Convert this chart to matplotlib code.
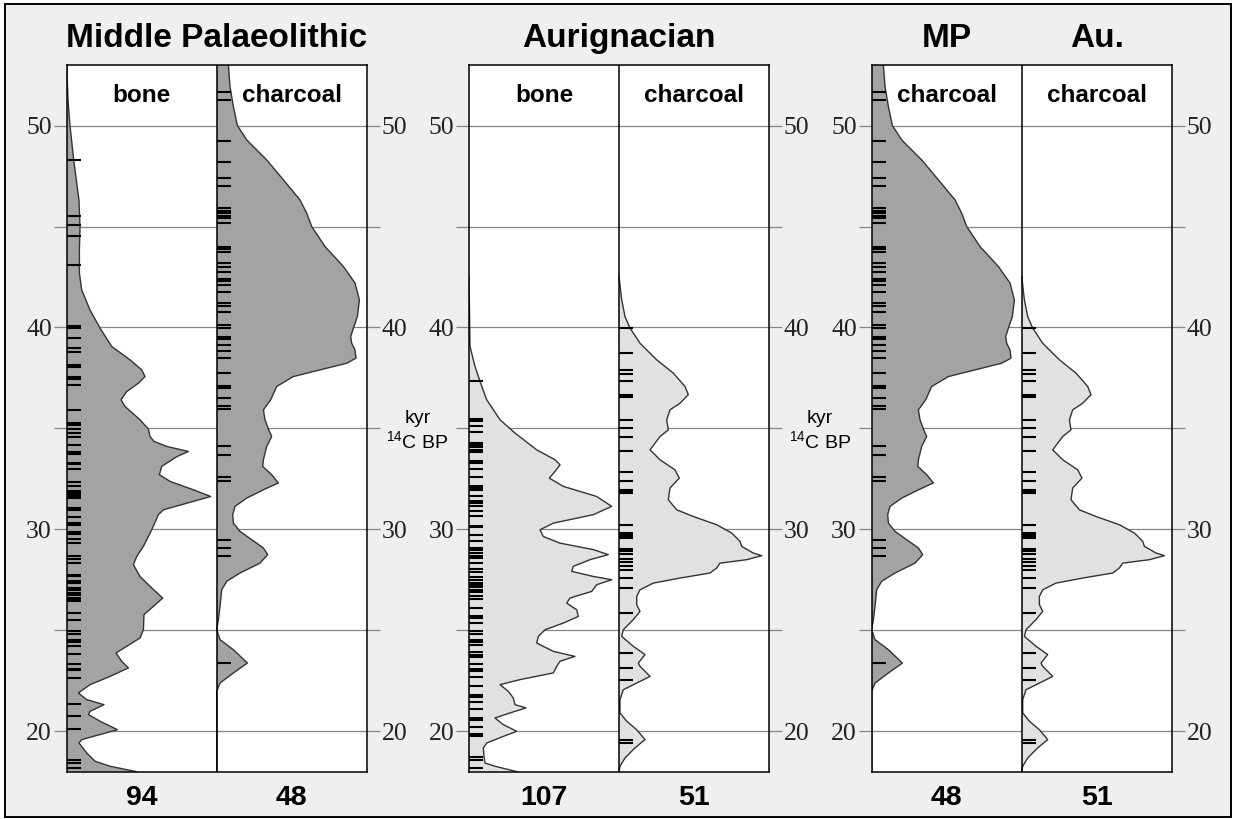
import matplotlib
matplotlib.use("Agg")
import matplotlib.pyplot as plt
from matplotlib.patches import Rectangle

# summed-probability curves: age (kyr 14C BP) and width (px of a 150 px panel)
MP_BONE_AGE = [53.0, 51.27, 50.0, 48.3, 46.3, 45.0, 43.84, 42.69, 41.86, 40.87,
               39.97, 39.06, 38.4, 37.9, 37.57, 37.24, 36.83, 36.42, 36.09, 35.43,
               34.97, 34.6, 34.36, 34.11, 33.86, 33.6, 33.12, 32.71, 32.38, 31.96,
               31.63, 31.39, 30.97, 30.73, 29.98, 29.16, 28.66, 28.25, 27.67, 27.18,
               26.6, 26.19, 25.78, 25.03, 24.62, 24.21, 23.88, 23.47, 23.14, 22.72,
               22.31, 21.9, 21.57, 21.32, 20.99, 20.83, 20.5, 20.08, 19.84, 19.59,
               19.42, 18.93, 18.52, 18.27, 18.0]
MP_BONE_W = [0, 1.3, 3.3, 7, 12.3, 13.3, 12.7, 12.7, 15, 23.3,
             33.3, 45, 63.3, 75, 78.3, 71.7, 60, 54.3, 58.3, 73.3,
             81.7, 83.3, 87.3, 100, 121.7, 110, 95, 92.7, 103.3, 126.7,
             144, 126.7, 96.7, 91.7, 85, 76.7, 70, 66.7, 73.3, 83.3,
             96, 86.7, 77.3, 76.7, 73.3, 60, 49.3, 55, 61.7, 43.3,
             23.3, 11.7, 20, 37.3, 23.3, 21.7, 33.3, 50.7, 33.3, 15,
             12.3, 20, 28.3, 43.3, 70]

MP_CHAR_AGE = [53.0, 51.93, 50.94, 50.0, 49.29, 48.3, 47.31, 46.32, 45.66, 45.0,
               44.01, 43.02, 42.2, 41.37, 40.54, 39.97, 39.55, 39.22, 38.89, 38.48,
               38.23, 37.9, 37.57, 37.08, 36.42, 35.92, 35.43, 34.97, 34.6, 34.11,
               33.45, 33.12, 32.71, 32.3, 31.96, 31.55, 31.14, 30.73, 30.31, 29.9,
               29.49, 29.08, 28.75, 28.33, 27.84, 27.43, 27.01, 26.19, 25.53, 25.03,
               24.54, 24.04, 23.38, 22.89, 22.39, 21.98, 18.0]
MP_CHAR_W = [11.7, 13.3, 16.7, 20.7, 30, 50, 66.7, 83.3, 90, 95,
             108.3, 126.7, 138.3, 142.7, 140.7, 136.7, 134, 135, 138.3, 139.3,
             130, 103.3, 76.7, 60, 54, 46.7, 48.3, 51.7, 55, 50,
             46.7, 46, 55, 61.7, 46.7, 30, 18.3, 16, 16.7, 23.3,
             35, 46.7, 51, 43.3, 23.3, 10, 5, 3.3, 1.7, 0,
             3.3, 16.7, 30.7, 16.7, 3.3, 0, 0]

AU_BONE_AGE = [42.52, 39.06, 38.07, 37.33, 36.42, 35.43, 34.77, 33.94, 33.45, 33.2,
               32.87, 32.54, 32.13, 31.63, 31.14, 30.73, 30.31, 29.98, 29.65, 29.32,
               29.0, 28.75, 28.5, 28.17, 27.92, 27.67, 27.51, 27.26, 26.93, 26.6,
               26.35, 26.02, 25.69, 25.36, 25.03, 24.7, 24.37, 23.96, 23.71, 23.47,
               23.22, 22.89, 22.56, 22.31, 21.98, 21.65, 21.32, 21.16, 20.91, 20.66,
               20.33, 20.0, 19.75, 19.42, 19.18, 18.76, 18.43, 18.27, 18.0]
AU_BONE_W = [0, 1, 6, 11, 17.7, 31, 46, 67.7, 86, 91,
             86, 80.3, 94.3, 127.7, 142.7, 124.3, 84.3, 71, 74.3, 91,
             124.3, 139.3, 121, 104.3, 102.7, 124.3, 142.7, 127.7, 122.7, 101,
             97.7, 107.7, 109.3, 94.3, 76, 69.3, 67.7, 84.3, 106, 91,
             87.7, 84.3, 51, 31, 39.3, 44.3, 46, 57, 41, 26,
             34.3, 47.7, 34.3, 17.7, 14.3, 15, 16, 26, 48]

AU_CHAR_AGE = [42.52, 41.37, 40.54, 39.97, 39.22, 38.4, 37.74, 37.08, 36.67, 36.25,
               35.92, 35.43, 34.93, 34.6, 33.94, 33.45, 32.95, 32.54, 32.05, 31.47,
               30.97, 30.64, 30.23, 29.82, 29.41, 29.16, 28.83, 28.7, 28.5, 28.33,
               28.09, 27.84, 27.59, 27.34, 27.01, 26.68, 26.27, 25.94, 25.53, 25.03,
               24.7, 24.21, 23.8, 23.38, 23.22, 22.72, 22.39, 22.06, 21.57, 20.91,
               20.5, 20.08, 19.59, 19.18, 18.68, 18.27, 18.0]
AU_CHAR_W = [0, 2.7, 6, 11, 21, 37.7, 54.3, 66, 69.3, 61,
             51, 47.7, 49.3, 41, 31, 41, 56, 60.3, 51, 49.3,
             57.7, 74.3, 97.7, 112.7, 121, 122.7, 134.3, 142.7, 127.7, 101,
             97.7, 91, 61, 34.3, 21, 17.7, 17.7, 21, 14.3, 4.3,
             2.7, 14.3, 26, 19.3, 21, 31, 17.7, 4.3, 1, 1,
             7.7, 17.7, 26, 16, 6, 1, 0]

# individual dates (rug ticks), kyr 14C BP
MP_BONE_DATES = [48.3, 45.5, 45.1, 44.55, 43.1, 40.05, 39.95, 39.5, 39.0, 38.8,
                 38.12, 38.02, 37.57, 37.46, 37.13, 35.9, 35.26, 35.15, 34.98, 34.78,
                 34.58, 34.2, 33.82, 33.75, 33.29, 33.22, 32.99, 32.35, 32.13, 31.92,
                 31.86, 31.8, 31.72, 31.64, 31.56, 31.06, 30.98, 30.62, 30.32, 30.24,
                 29.86, 29.79, 29.53, 29.33, 28.7, 28.54, 28.34, 27.76, 27.68, 27.43,
                 27.35, 27.1, 27.02, 26.85, 26.77, 26.61, 26.52, 26.44, 25.86, 25.53,
                 24.96, 24.84, 24.51, 24.43, 24.21, 23.85, 23.31, 23.09, 23.03, 22.65,
                 21.33, 20.75, 20.09, 18.6, 18.44, 18.19]
MP_CHAR_DATES = [51.68, 51.27, 49.24, 48.22, 47.39, 47.01, 45.9, 45.79, 45.66, 45.53,
                 45.41, 45.16, 44.0, 43.88, 43.76, 43.18, 43.02, 42.77, 42.39, 42.28,
                 42.11, 41.78, 41.2, 41.04, 40.79, 40.1, 39.97, 39.55, 39.44, 39.14,
                 38.84, 38.48, 37.74, 37.11, 37.0, 36.5, 36.09, 35.96, 34.11, 33.7,
                 32.62, 32.42, 29.49, 29.08, 28.66, 23.38]
AU_BONE_DATES = [37.33, 35.46, 35.35, 35.13, 34.8, 34.28, 34.19, 34.08, 33.95, 33.81,
                 33.37, 33.29, 32.99, 32.59, 32.16, 32.05, 31.93, 31.67, 31.39, 31.31,
                 31.14, 30.89, 30.68, 30.18, 30.1, 29.74, 29.41, 29.08, 28.96, 28.83,
                 28.7, 28.58, 28.33, 28.04, 27.9, 27.64, 27.5, 27.37, 27.26, 27.14,
                 27.01, 26.88, 26.68, 26.55, 26.1, 25.72, 25.61, 25.36, 24.95, 24.83,
                 24.53, 24.4, 24.29, 23.91, 23.79, 23.68, 23.35, 23.08, 22.97, 22.69,
                 22.22, 21.81, 21.7, 21.43, 21.1, 20.66, 20.54, 20.21, 19.88, 19.78,
                 18.71, 18.59, 18.18]
AU_CHAR_DATES = [39.97, 38.73, 37.9, 37.71, 37.33, 36.67, 36.6, 36.55, 35.43, 35.02,
                 34.57, 33.86, 32.82, 32.38, 31.93, 31.87, 31.8, 30.23, 29.82, 29.75,
                 29.69, 29.62, 29.57, 29.03, 28.97, 28.91, 28.8, 28.53, 28.4, 28.2,
                 27.97, 27.59, 27.1, 25.86, 23.88, 23.14, 22.56, 19.59, 19.42]

GROUP_TITLES = ["Middle Palaeolithic", "Aurignacian", ""]
PANEL_TITLES = ["", "", "", "", "MP", "Au."]
PANEL_LABELS = ["bone", "charcoal", "bone", "charcoal", "charcoal", "charcoal"]
COUNTS = ["94", "48", "107", "51", "48", "51"]
TICKS = [20, 25, 30, 35, 40, 45, 50]
TICK_LABELS = ["20", "", "30", "", "40", "", "50"]

W, H = 1237, 819
DARK = "#a3a3a3"
LIGHT = "#e1e1e1"
SANS = "Liberation Sans"
GROUP_LEFT = [66.7, 469.0, 871.7]   # px
PANEL_PX = 150

plt.rcParams["font.family"] = "Liberation Serif"


def fx(px):
    return px / W


def fy(py):
    return 1 - py / H


def panel(ax, off, ages, widths, dates, colour):
    x = [off + w / PANEL_PX for w in widths]
    ax.fill_betweenx(ages, off, x, facecolor=colour, edgecolor="none", zorder=2)
    ax.plot(x, ages, color="#333333", lw=1.0, zorder=2.2)
    ax.hlines(dates, off, off + 14 / PANEL_PX, color="black", lw=1.5, zorder=2.4)


curves = [
    (MP_BONE_AGE, MP_BONE_W, MP_BONE_DATES, DARK),
    (MP_CHAR_AGE, MP_CHAR_W, MP_CHAR_DATES, DARK),
    (AU_BONE_AGE, AU_BONE_W, AU_BONE_DATES, LIGHT),
    (AU_CHAR_AGE, AU_CHAR_W, AU_CHAR_DATES, LIGHT),
    (MP_CHAR_AGE, MP_CHAR_W, MP_CHAR_DATES, DARK),
    (AU_CHAR_AGE, AU_CHAR_W, AU_CHAR_DATES, LIGHT),
]

fig = plt.figure(figsize=(W / 100, H / 100), dpi=100, facecolor="white")
fig.add_artist(Rectangle((fx(5), fy(817)), fx(1231) - fx(5), fy(4) - fy(817),
                         transform=fig.transFigure, facecolor="#efefef",
                         edgecolor="black", lw=1.4, zorder=-1))

for g, left in enumerate(GROUP_LEFT):
    ax = fig.add_axes([fx(left), fy(771.7), fx(2 * PANEL_PX), fy(65) - fy(771.7)])
    ax.set_xlim(0, 2)
    ax.set_ylim(18.0, 53.0)
    ax.set_facecolor("white")
    for v in TICKS:
        ax.axhline(v, color="#858585", lw=0.9, zorder=1)
    ax.set_xticks([])
    ax.set_yticks(TICKS)
    ax.set_yticklabels(TICK_LABELS)
    ax.tick_params(axis="y", left=True, right=True, labelleft=True, labelright=True,
                   direction="out", length=9.1, width=0.9, color="#858585",
                   pad=1.5, labelsize=18.5, labelcolor="#222222")
    for s in ax.spines.values():
        s.set_linewidth(1.1)
        s.set_zorder(3)
    ax.axvline(1, color="black", lw=1.1, zorder=3)

    for j in range(2):
        k = 2 * g + j
        ages, widths, dates, colour = curves[k]
        panel(ax, j, ages, widths, dates, colour)
        ax.text(j + 0.5, 51.19, PANEL_LABELS[k], ha="center", va="baseline",
                family=SANS, fontweight="bold", fontsize=17.5, zorder=4)
        cx = left + PANEL_PX * j + PANEL_PX / 2
        fig.text(fx(cx), fy(805), COUNTS[k], ha="center", va="baseline",
                 family=SANS, fontweight="bold", fontsize=20.5)
        if PANEL_TITLES[k]:
            fig.text(fx(cx), fy(46.7), PANEL_TITLES[k], ha="center", va="baseline",
                     family=SANS, fontweight="bold", fontsize=24)

    if GROUP_TITLES[g]:
        fig.text(fx(left + PANEL_PX), fy(46.7), GROUP_TITLES[g], ha="center",
                 va="baseline", family=SANS, fontweight="bold", fontsize=24)

for xc in (417.5, 820.0):
    fig.text(fx(xc), fy(423), "kyr", ha="center", va="baseline",
             family=SANS, fontsize=14)
    fig.text(fx(xc), fy(448), r"$\mathregular{^{14}}$C BP", ha="center",
             va="baseline", family=SANS, fontsize=14)

fig.savefig("out.png", dpi=100, facecolor="white")
